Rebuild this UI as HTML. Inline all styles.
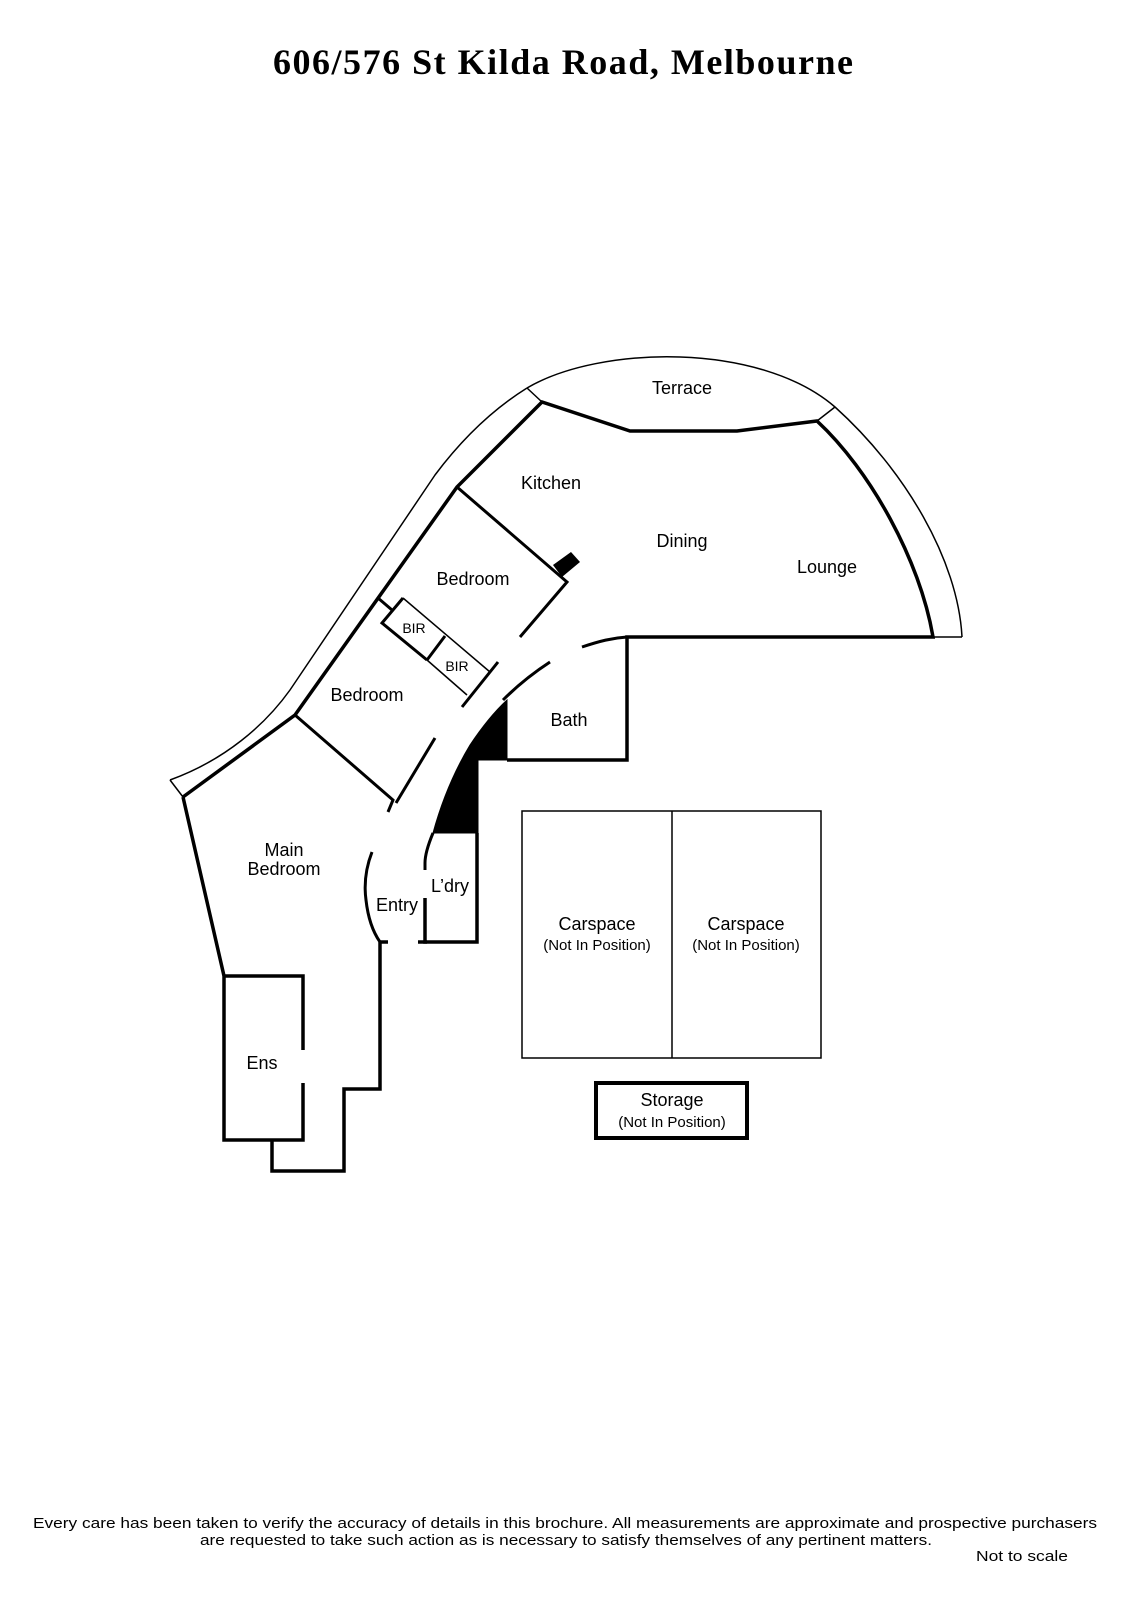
<!DOCTYPE html>
<html><head><meta charset="utf-8"><style>
html,body{margin:0;padding:0;background:#fff;}
svg{display:block;}
text{font-family:"Liberation Sans",sans-serif;fill:#000;}
</style></head><body>
<svg width="1131" height="1600" viewBox="0 0 1131 1600" xmlns="http://www.w3.org/2000/svg">
<text x="563" y="74" font-weight="bold" font-size="36" text-anchor="middle" textLength="580" style="font-family:'Liberation Serif',serif">606/576 St Kilda Road, Melbourne</text>

<g fill="none" stroke="#000" stroke-linejoin="miter">
<!-- outer thin band line -->
<path d="M170,780 C225,760 265,725 290,690 L435,475 C465,435 495,408 527,388" stroke-width="1.5"/>
<!-- terrace outer arc + lounge outer arc -->
<path d="M527,388 C600,345 760,342 835,407 C905,470 958,560 962,637" stroke-width="1.5"/>
<line x1="170" y1="780" x2="183" y2="797" stroke-width="1.5"/>
<line x1="527" y1="388" x2="542" y2="402" stroke-width="1.5"/>
<line x1="817" y1="421" x2="835" y2="407" stroke-width="1.5"/>
<line x1="933" y1="637" x2="962" y2="637" stroke-width="1.5"/>
<!-- thick outer wall -->
<path d="M183,797 L295,715 L457,487 L542,402 L630,431 L737,431 L817,421 C870,470 920,560 933,637 L627,637 L627,760 L507,760" stroke-width="3.5"/>
<!-- corridor arcs -->
<path d="M582,647 C600,641 612,638 627,637" stroke-width="3"/>
<path d="M550,662 C530,675 515,688 503,700" stroke-width="3"/>
<!-- black fill wall -->
<path d="M507,700 L507,760 L478,760 L478,833 L433,833 C442,800 455,770 470,745 C482,727 494,712 507,700 Z" fill="#000" stroke="#000" stroke-width="1"/>
<!-- L'dry -->
<path d="M433,833 C428,845 425,855 425,863 L425,870" stroke-width="3"/>
<path d="M425,898 L425,942 L477,942 L477,833" stroke-width="3.5"/>
<line x1="418" y1="942" x2="427" y2="942" stroke-width="3.5"/>
<!-- Entry arc -->
<path d="M372,852 C365,870 364,885 366,900 C368,918 373,932 380,942" stroke-width="3"/>
<path d="M380,942 L388,942" stroke-width="3.5"/>
<path d="M183,797 L224,976 L224,1140 L303,1140 L303,1083" stroke-width="3.5"/>
<path d="M224,976 L303,976 L303,1050" stroke-width="3.5"/>
<path d="M380,942 L380,1089 L344,1089 L344,1171 L272,1171 L272,1140" stroke-width="3.5"/>
<!-- bedroom lower walls -->
<path d="M295,715 L393,800 L388,812" stroke-width="3"/>
<line x1="435" y1="738" x2="396" y2="803" stroke-width="3"/>
<!-- upper bedroom wall -->
<path d="M457,487 L567,582 L520,637" stroke-width="3"/>
<!-- BIR -->
<line x1="378" y1="598" x2="392" y2="610" stroke-width="3"/>
<path d="M403,598 L490,672" stroke-width="1.5"/>
<path d="M403,598 L382,623 L427,660" stroke-width="3"/>
<path d="M427,660 L467,695" stroke-width="1.5"/>
<line x1="427" y1="660" x2="445" y2="636" stroke-width="3"/>
<line x1="498" y1="662" x2="462" y2="707" stroke-width="3"/>
<!-- carspaces -->
<rect x="522" y="811" width="299" height="247" stroke-width="1.5"/>
<line x1="672" y1="811" x2="672" y2="1058" stroke-width="1.5"/>
<rect x="596" y="1083" width="151" height="55" stroke-width="4"/>
</g>
<polygon points="553,565 571,552 580,562 562,577" fill="#000"/>

<g font-size="18" text-anchor="middle">
<text x="682" y="394">Terrace</text>
<text x="551" y="489">Kitchen</text>
<text x="682" y="547">Dining</text>
<text x="827" y="573">Lounge</text>
<text x="473" y="585">Bedroom</text>
<text x="367" y="701">Bedroom</text>
<text x="569" y="726">Bath</text>
<text x="284" y="856">Main</text>
<text x="284" y="875">Bedroom</text>
<text x="397" y="911">Entry</text>
<text x="450" y="892">L’dry</text>
<text x="262" y="1069">Ens</text>
<text x="597" y="930">Carspace</text>
<text x="746" y="930">Carspace</text>
<text x="672" y="1106">Storage</text>
</g>
<g font-size="15" text-anchor="middle">
<text x="414" y="633" font-size="14">BIR</text>
<text x="457" y="671" font-size="14">BIR</text>
<text x="597" y="950">(Not In Position)</text>
<text x="746" y="950">(Not In Position)</text>
<text x="672" y="1127">(Not In Position)</text>
</g>
<g font-size="15" text-anchor="middle">
<text x="565" y="1528" textLength="1064" lengthAdjust="spacingAndGlyphs">Every care has been taken to verify the accuracy of details in this brochure.  All measurements are approximate and prospective purchasers</text>
<text x="566" y="1545" textLength="732" lengthAdjust="spacingAndGlyphs">are requested to take such action as is necessary to satisfy themselves of any pertinent matters.</text>
<text x="1022" y="1561" textLength="92" lengthAdjust="spacingAndGlyphs">Not to scale</text>
</g>
</svg>
</body></html>
